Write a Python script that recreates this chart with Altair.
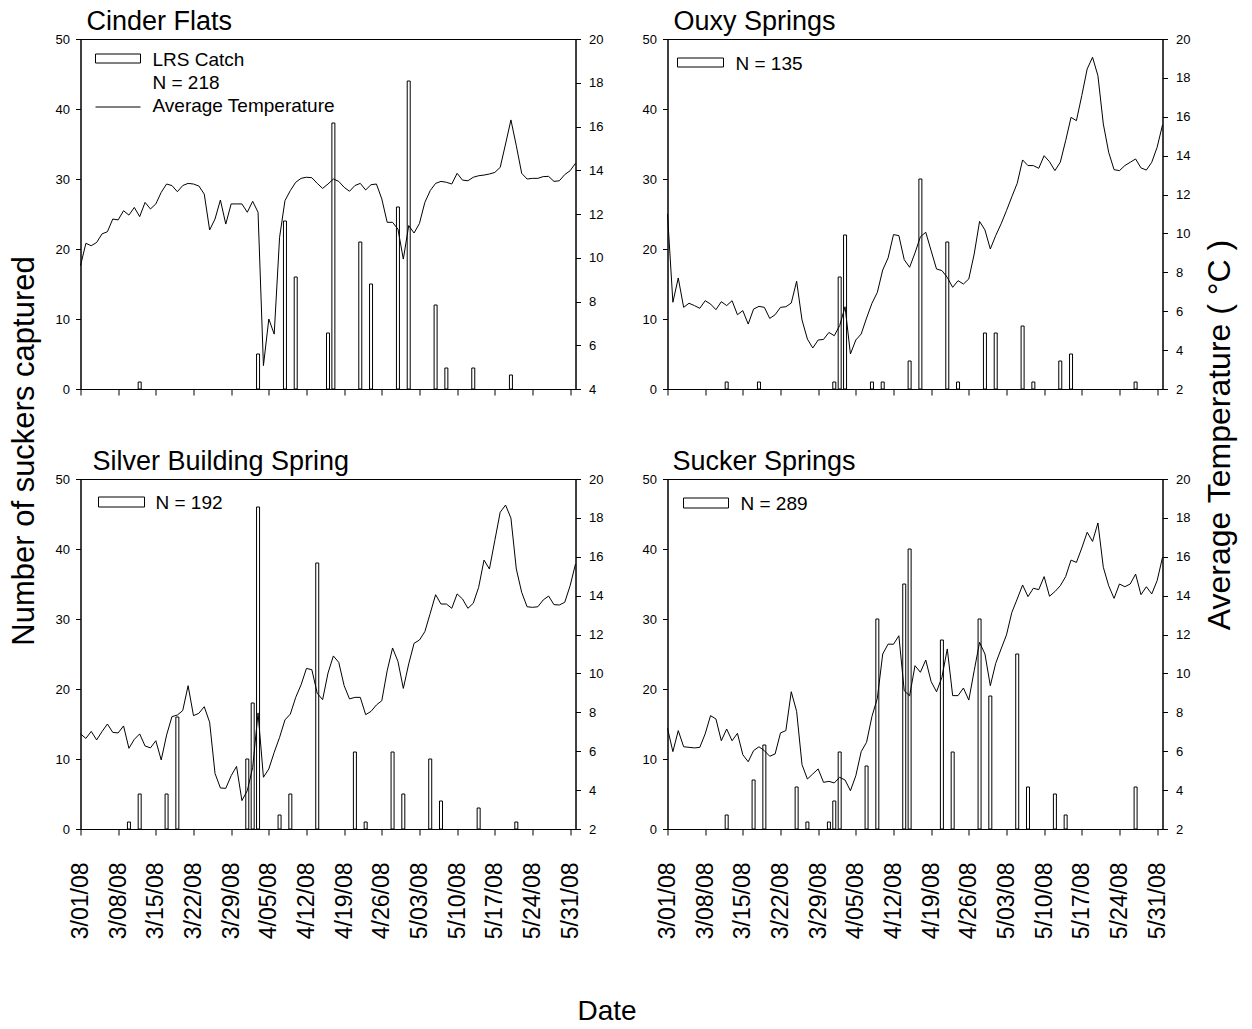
import altair as alt
import pandas as pd

FONT = "Liberation Sans"
START = pd.Timestamp("2008-03-01")

# weekly tick labels along the date axis (day 0 = 3/01/08)
WEEK_LABELS = ["3/01/08", "3/08/08", "3/15/08", "3/22/08", "3/29/08", "4/05/08", "4/12/08",
               "4/19/08", "4/26/08", "5/03/08", "5/10/08", "5/17/08", "5/24/08", "5/31/08"]

# ---- Cinder Flats ----
cf_dates = ["2008-03-12", "2008-04-03", "2008-04-08", "2008-04-10", "2008-04-16", "2008-04-17",
            "2008-04-22", "2008-04-24", "2008-04-29", "2008-05-01", "2008-05-06", "2008-05-08",
            "2008-05-13", "2008-05-20"]
cf_catch = [1, 5, 24, 16, 8, 38, 21, 15, 26, 44, 12, 3, 3, 2]
cf_temp = [9.64, 10.66, 10.55, 10.70, 11.09, 11.19, 11.77, 11.73, 12.15, 11.95, 12.30, 11.88,
           12.53, 12.23, 12.46, 12.99, 13.37, 13.30, 13.02, 13.30, 13.40, 13.37, 13.28, 12.91,
           11.27, 11.77, 12.64, 11.54, 12.46, 12.46, 12.46, 12.08, 12.58, 12.08, 5.07, 7.20,
           6.51, 10.93, 12.61, 13.07, 13.45, 13.63, 13.68, 13.66, 13.40, 13.17, 13.37, 13.60,
           13.49, 13.22, 13.04, 13.30, 13.40, 13.10, 13.34, 13.37, 12.69, 11.62, 11.62, 11.31,
           9.94, 11.47, 11.13, 11.57, 12.53, 13.07, 13.40, 13.49, 13.45, 13.37, 13.86, 13.55,
           13.52, 13.68, 13.75, 13.78, 13.83, 13.90, 14.13, 15.20, 16.30, 15.12, 13.86, 13.60,
           13.63, 13.63, 13.71, 13.72, 13.49, 13.52, 13.80, 13.98, 14.32]

# ---- Ouxy Springs ----
ox_dates = ["2008-03-12", "2008-03-18", "2008-04-01", "2008-04-02", "2008-04-03", "2008-04-08",
            "2008-04-10", "2008-04-15", "2008-04-17", "2008-04-22", "2008-04-24", "2008-04-29",
            "2008-05-01", "2008-05-06", "2008-05-08", "2008-05-13", "2008-05-15", "2008-05-27"]
ox_catch = [1, 1, 1, 16, 22, 1, 1, 4, 30, 21, 1, 8, 8, 9, 1, 4, 5, 1]
ox_temp = [11.0, 6.46, 7.71, 6.20, 6.41, 6.29, 6.15, 6.54, 6.37, 6.08, 6.49, 6.29, 6.54, 5.82,
           6.03, 5.34, 6.11, 6.25, 6.20, 5.63, 5.82, 6.20, 6.23, 6.42, 7.54, 5.55, 4.57, 4.11,
           4.52, 4.55, 4.91, 4.74, 5.26, 6.23, 3.80, 4.52, 4.83, 5.65, 6.41, 6.97, 8.12, 8.74,
           9.94, 9.89, 8.65, 8.26, 9.00, 9.83, 10.06, 9.11, 8.17, 8.09, 7.74, 7.23, 7.57, 7.40,
           7.66, 8.94, 10.62, 10.18, 9.20, 9.89, 10.49, 11.17, 11.89, 12.58, 13.78, 13.49, 13.49,
           13.35, 14.00, 13.69, 13.23, 13.66, 14.77, 15.97, 15.80, 17.09, 18.46, 19.06, 18.11,
           15.63, 14.17, 13.28, 13.23, 13.49, 13.66, 13.83, 13.37, 13.26, 13.66, 14.43, 15.58]

# ---- Silver Building Spring ----
sb_dates = ["2008-03-10", "2008-03-12", "2008-03-17", "2008-03-19", "2008-04-01", "2008-04-02",
            "2008-04-03", "2008-04-07", "2008-04-09", "2008-04-14", "2008-04-21", "2008-04-23",
            "2008-04-28", "2008-04-30", "2008-05-05", "2008-05-07", "2008-05-14", "2008-05-21"]
sb_catch = [1, 5, 5, 16, 10, 18, 46, 2, 5, 38, 11, 1, 11, 5, 10, 4, 3, 1]
sb_temp = [6.89, 6.66, 7.02, 6.58, 7.01, 7.40, 6.97, 6.94, 7.30, 6.15, 6.61, 6.89, 6.27, 6.17,
           6.54, 5.55, 6.83, 7.78, 7.86, 8.09, 9.37, 7.83, 7.95, 8.29, 7.49, 4.86, 4.11, 4.09,
           4.74, 5.22, 3.46, 3.97, 5.17, 7.97, 4.66, 5.09, 5.94, 6.71, 7.61, 7.91, 8.77, 9.42,
           10.26, 10.19, 8.98, 8.65, 10.02, 10.90, 10.57, 9.37, 8.69, 8.77, 8.77, 7.88, 8.05,
           8.38, 8.60, 10.14, 11.31, 10.62, 9.23, 10.49, 11.55, 11.72, 12.15, 13.09, 14.05, 13.57,
           13.57, 13.35, 14.09, 13.83, 13.35, 13.61, 14.43, 15.83, 15.37, 16.83, 18.29, 18.66,
           17.99, 15.37, 14.17, 13.43, 13.40, 13.43, 13.78, 13.98, 13.54, 13.52, 13.66, 14.51, 15.63]

# ---- Sucker Springs ----
ss_dates = ["2008-03-12", "2008-03-17", "2008-03-19", "2008-03-25", "2008-03-27", "2008-03-31",
            "2008-04-01", "2008-04-02", "2008-04-07", "2008-04-09", "2008-04-14", "2008-04-15",
            "2008-04-21", "2008-04-23", "2008-04-28", "2008-04-30", "2008-05-05", "2008-05-07",
            "2008-05-12", "2008-05-14", "2008-05-27"]
ss_catch = [2, 7, 12, 6, 1, 1, 4, 11, 9, 30, 35, 40, 27, 11, 30, 19, 25, 6, 5, 2, 6]
ss_temp = [7.18, 5.98, 7.06, 6.23, 6.20, 6.17, 6.20, 6.89, 7.83, 7.66, 6.54, 7.14, 6.54, 6.92,
           5.82, 5.46, 6.03, 6.23, 6.03, 5.74, 5.86, 6.94, 7.06, 9.06, 8.05, 5.31, 4.57, 4.83,
           5.09, 4.40, 4.45, 4.37, 4.66, 4.52, 3.97, 4.74, 5.98, 6.46, 7.79, 8.72, 11.00, 11.51,
           11.50, 11.94, 9.11, 8.85, 10.40, 10.06, 10.69, 9.58, 9.06, 9.80, 11.26, 8.86, 8.86,
           9.25, 8.63, 10.14, 11.60, 11.00, 9.37, 10.52, 11.26, 11.98, 13.14, 13.83, 14.55, 13.95,
           14.38, 14.31, 14.98, 13.97, 14.21, 14.51, 14.98, 15.83, 15.71, 16.45, 17.26, 16.79,
           17.74, 15.46, 14.51, 13.86, 14.60, 14.46, 14.60, 15.11, 14.05, 14.46, 14.09, 14.77, 15.97]

PANEL_W, PANEL_H = 495, 350
TICK_DAYS = [7 * i for i in range(len(WEEK_LABELS))]
LABEL_EXPR = "[" + ",".join("'%s'" % s for s in WEEK_LABELS) + "][round(datum.value / 7)]"
ONE = pd.DataFrame({"k": [0]})


def catch_frame(dates, counts):
    d = pd.to_datetime(pd.Series(dates))
    return pd.DataFrame({"day": (d - START).dt.days, "count": counts})


def temp_frame(temps):
    return pd.DataFrame({"day": list(range(len(temps))), "temp": temps})


def text_at(text, x0, y0, size, angle=0, align="left"):
    return alt.Chart(ONE).mark_text(text=text, align=align, baseline="alphabetic",
                                    fontSize=size, font=FONT, color="black", angle=angle,
                                    lineBreak="\n", lineHeight=23).encode(
        x=alt.value(x0), y=alt.value(y0))


def swatch(x0, x1, y0, y1):
    return alt.Chart(ONE).mark_rect(fill="white", stroke="black", strokeWidth=1).encode(
        x=alt.value(x0), x2=alt.value(x1), y=alt.value(y0), y2=alt.value(y1))


def line_key(x0, x1, y0):
    return alt.Chart(ONE).mark_rule(color="black", strokeWidth=1).encode(
        x=alt.value(x0), x2=alt.value(x1), y=alt.value(y0))


def panel(title, title_dx, catch_df, temp_df, t_low, show_dates, legend_layers):
    x_axis = alt.Axis(values=TICK_DAYS, labels=show_dates, labelExpr=LABEL_EXPR,
                      labelAngle=270, labelFontSize=23, labelPadding=27, tickSize=6,
                      title=None)
    x = alt.X("day:Q", scale=alt.Scale(domain=[0, 92], nice=False, zero=False, padding=0),
              axis=x_axis)

    bars = alt.Chart(catch_df).mark_bar(width=3, fill="white", stroke="black",
                                        strokeWidth=1).encode(
        x=x,
        y=alt.Y("count:Q", scale=alt.Scale(domain=[0, 50], nice=False, padding=0),
                axis=alt.Axis(orient="left", values=list(range(0, 51, 10)), title=None,
                              labelFontSize=13, labelPadding=6, tickSize=5)),
    )
    line = alt.Chart(temp_df).mark_line(color="black", strokeWidth=1).encode(
        x=x,
        y=alt.Y("temp:Q", scale=alt.Scale(domain=[t_low, 20], nice=False, zero=False),
                axis=alt.Axis(orient="right", values=list(range(t_low, 21, 2)), title=None,
                              labelFontSize=13, labelPadding=8, tickSize=5)),
    )
    heading = text_at(title, title_dx, -9, 27)
    return alt.layer(bars, line, heading, *legend_layers).resolve_scale(
        y="independent").properties(width=PANEL_W, height=PANEL_H)


p_cf = panel("Cinder Flats", 6, catch_frame(cf_dates, cf_catch), temp_frame(cf_temp), 4, False,
             [swatch(15, 60, 15, 24), text_at("LRS Catch\nN = %d" % sum(cf_catch), 72, 27, 19),
              line_key(15, 60, 68), text_at("Average Temperature", 72, 73, 19)])
p_ox = panel("Ouxy Springs", 6, catch_frame(ox_dates, ox_catch), temp_frame(ox_temp), 2, False,
             [swatch(10, 56, 19, 28), text_at("N = %d" % sum(ox_catch), 68, 31, 19)])
p_sb = panel("Silver Building Spring", 12, catch_frame(sb_dates, sb_catch), temp_frame(sb_temp),
             2, True,
             [swatch(18, 64, 18, 28), text_at("N = %d" % sum(sb_catch), 75, 30, 19)])
p_ss = panel("Sucker Springs", 5, catch_frame(ss_dates, ss_catch), temp_frame(ss_temp), 2, True,
             [swatch(16, 61, 19, 29), text_at("N = %d" % sum(ss_catch), 73, 31, 19)])

grid = alt.vconcat(
    alt.hconcat(p_cf, p_ox, spacing=38),
    alt.hconcat(p_sb, p_ss, spacing=38),
    spacing=50,
)

NO_FRAME = alt.ViewBackground(stroke="transparent")


def side_title(text, x0, y0, size, w, h):
    return text_at(text, x0, y0, size, angle=270, align="center").properties(
        width=w, height=h, view=NO_FRAME)


left_title = side_title("Number of suckers captured", 33, 412, 31, 40, 850)
right_title = side_title("Average Temperature ( \u00b0C )", 21, 396, 32, 40, 850)

chart = alt.hconcat(left_title, grid, right_title, spacing=12.5).properties(
    title=alt.TitleParams("Date", orient="bottom", anchor="middle", fontSize=28, font=FONT,
                          fontWeight="normal", color="black", baseline="top", offset=59,
                          dx=-18),
    padding={"left": 0, "top": 7, "right": 0, "bottom": 0},
    background="white",
).configure_view(stroke="black", strokeWidth=1).configure_axis(
    labelFont=FONT, labelColor="black", domainColor="black", tickColor="black", grid=False,
)

chart.save("out.html", embed_options={"renderer": "svg", "actions": False})
